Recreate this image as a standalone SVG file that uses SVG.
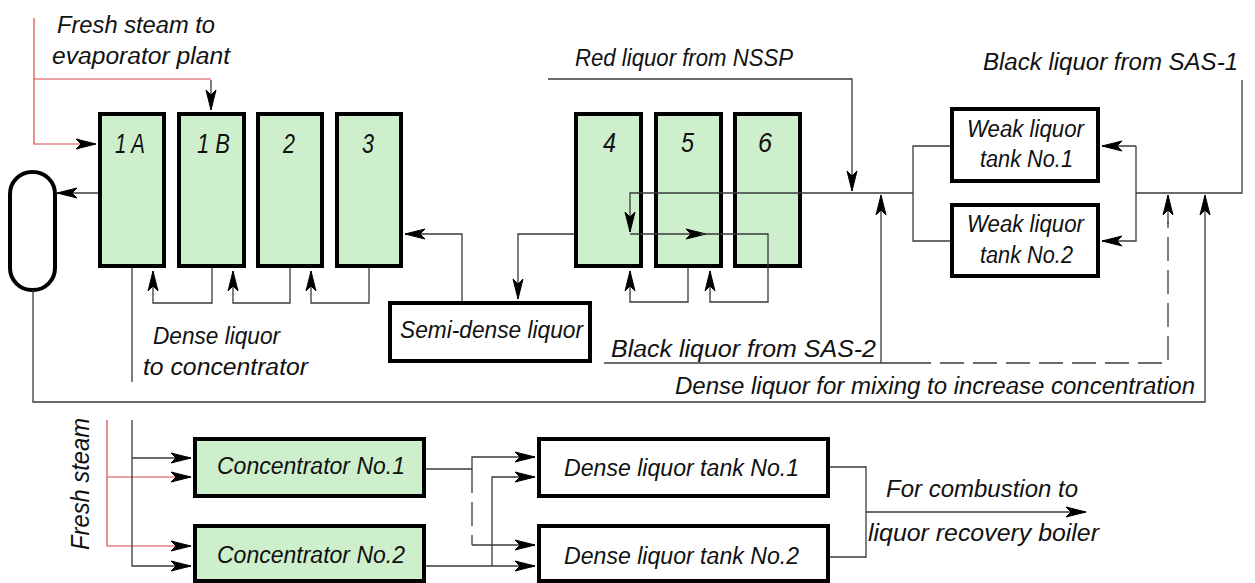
<svg xmlns="http://www.w3.org/2000/svg" width="1255" height="583" viewBox="0 0 1255 583">
<style>
.box{fill:#cdefcc;stroke:#000;stroke-width:4}
.wbox{fill:#fff;stroke:#000;stroke-width:4}
.ln{fill:none;stroke:#3a3a3a;stroke-width:1.3}
.red{fill:none;stroke:#d8464a;stroke-width:1.2}
.dash{stroke-dasharray:24 9}
.t{font-family:"Liberation Sans",Arial,sans-serif;font-style:italic;font-size:23px;fill:#111}
.n{font-family:"Liberation Sans",Arial,sans-serif;font-style:italic;font-size:28px;fill:#111}
</style>
<defs>
<marker id="a" viewBox="-23 -7 24 14" refX="0" refY="0" markerWidth="24" markerHeight="14" orient="auto" markerUnits="userSpaceOnUse">
<path d="M0,0 L-20,-5 L-15,0 L-20,5 Z" fill="#000" stroke="#000" stroke-width="1" stroke-linejoin="round"/>
</marker>
</defs>
<rect width="1255" height="583" fill="#fff"/>

<g id="receiver"><rect class="wbox" x="10" y="172" width="45" height="118" rx="22" ry="22"/></g>
<g id="evap-1A"><rect class="box" x="100" y="114" width="64" height="152"/><text class="n" x="115" y="153" textLength="30" lengthAdjust="spacingAndGlyphs">1 A</text></g>
<g id="evap-1B"><rect class="box" x="179" y="114" width="65" height="152"/><text class="n" x="197" y="153" textLength="33" lengthAdjust="spacingAndGlyphs">1 B</text></g>
<g id="evap-2"><rect class="box" x="258" y="114" width="64" height="152"/><text class="n" x="283" y="153" textLength="12" lengthAdjust="spacingAndGlyphs">2</text></g>
<g id="evap-3"><rect class="box" x="337" y="114" width="64" height="152"/><text class="n" x="362" y="153" textLength="12" lengthAdjust="spacingAndGlyphs">3</text></g>
<g id="evap-4"><rect class="box" x="576" y="114" width="65" height="152"/><text class="n" x="603" y="152" textLength="13" lengthAdjust="spacingAndGlyphs">4</text></g>
<g id="evap-5"><rect class="box" x="656" y="114" width="65" height="152"/><text class="n" x="681" y="152" textLength="13" lengthAdjust="spacingAndGlyphs">5</text></g>
<g id="evap-6"><rect class="box" x="735" y="114" width="65" height="152"/><text class="n" x="758" y="152" textLength="14" lengthAdjust="spacingAndGlyphs">6</text></g>
<g id="semi-dense"><rect class="wbox" x="390" y="303" width="200" height="58"/><text class="t" x="400" y="338" textLength="183" lengthAdjust="spacingAndGlyphs">Semi-dense liquor</text></g>
<g id="weak-tank-1"><rect class="wbox" x="952" y="109" width="146" height="72"/><text class="t" x="967" y="137" textLength="117" lengthAdjust="spacingAndGlyphs">Weak liquor</text><text class="t" x="980" y="167" textLength="93" lengthAdjust="spacingAndGlyphs">tank No.1</text></g>
<g id="weak-tank-2"><rect class="wbox" x="952" y="205" width="146" height="71"/><text class="t" x="967" y="232" textLength="117" lengthAdjust="spacingAndGlyphs">Weak liquor</text><text class="t" x="980" y="263" textLength="93" lengthAdjust="spacingAndGlyphs">tank No.2</text></g>
<g id="concentrator-1"><rect class="box" x="195" y="439" width="229" height="57"/><text class="t" x="217" y="474" textLength="188" lengthAdjust="spacingAndGlyphs">Concentrator No.1</text></g>
<g id="concentrator-2"><rect class="box" x="195" y="526" width="229" height="55"/><text class="t" x="217" y="563" textLength="188" lengthAdjust="spacingAndGlyphs">Concentrator No.2</text></g>
<g id="dense-tank-1"><rect class="wbox" x="539" y="439" width="289" height="57"/><text class="t" x="564" y="476" textLength="235" lengthAdjust="spacingAndGlyphs">Dense liquor tank No.1</text></g>
<g id="dense-tank-2"><rect class="wbox" x="539" y="526" width="289" height="55"/><text class="t" x="564" y="564" textLength="235" lengthAdjust="spacingAndGlyphs">Dense liquor tank No.2</text></g>

<g id="connectors">
<path class="red" d="M34,18 V144 H96" marker-end="url(#a)"/>
<path class="red" d="M34,79 H211"/>
<path class="ln" d="M211,80 V110" marker-end="url(#a)"/>
<path class="ln" d="M98,193 H57" marker-end="url(#a)"/>
<path class="ln" d="M212,268 V303 H153 V271" marker-end="url(#a)"/>
<path class="ln" d="M290,268 V303 H233 V271" marker-end="url(#a)"/>
<path class="ln" d="M369,268 V303 H311 V271" marker-end="url(#a)"/>
<path class="ln" d="M132,268 V382"/>
<path class="ln" d="M462,301 V234 H405" marker-end="url(#a)"/>
<path class="ln" d="M574,234 H518 V299" marker-end="url(#a)"/>
<path class="ln" d="M688,268 V302 H630 V271" marker-end="url(#a)"/>
<path class="ln" d="M913,193 H630 V232" marker-end="url(#a)"/>
<path class="ln" d="M630,234 H706" marker-end="url(#a)"/>
<path class="ln" d="M700,234 H768 V302 H710 V271" marker-end="url(#a)"/>
<path class="ln" d="M548,79 H852 V191" marker-end="url(#a)"/>
<path class="ln" d="M881,363 V195" marker-end="url(#a)"/>
<path class="ln" d="M604,363 H907"/>
<path class="ln dash" d="M907,363 H1168 V222"/>
<path class="ln" d="M1168,224 V195" marker-end="url(#a)"/>
<path class="ln" d="M950,146 H913 V241 H950"/>
<path class="ln" d="M1242,80 V193 H1136"/>
<path class="ln" d="M1136,146 H1102" marker-end="url(#a)"/>
<path class="ln" d="M1136,146 V241 H1102" marker-end="url(#a)"/>
<path class="ln" d="M33,290 V402 H1205 V195" marker-end="url(#a)"/>
<path class="red" d="M107,420 V546 H191" marker-end="url(#a)"/>
<path class="red" d="M107,477 H191" marker-end="url(#a)"/>
<path class="ln" d="M132,420 V566 H191" marker-end="url(#a)"/>
<path class="ln" d="M132,458 H191" marker-end="url(#a)"/>
<path class="ln" d="M426,469 H472 V457 H535" marker-end="url(#a)"/>
<path class="ln dash" d="M472,469 V545"/>
<path class="ln" d="M472,545 H535" marker-end="url(#a)"/>
<path class="ln" d="M426,566 H535" marker-end="url(#a)"/>
<path class="ln" d="M492,566 V477 H535" marker-end="url(#a)"/>
<path class="ln" d="M830,467 H866 V557 H830"/>
<path class="ln" d="M866,512 H1086" marker-end="url(#a)"/>
</g>

<g id="labels">
<text class="t" x="57" y="33" textLength="158" lengthAdjust="spacingAndGlyphs">Fresh steam to</text>
<text class="t" x="52" y="64" textLength="178" lengthAdjust="spacingAndGlyphs">evaporator plant</text>
<text class="t" x="575" y="66" textLength="218" lengthAdjust="spacingAndGlyphs">Red liquor from NSSP</text>
<text class="t" x="983" y="70" textLength="255" lengthAdjust="spacingAndGlyphs">Black liquor from SAS-1</text>
<text class="t" x="153" y="344" textLength="127" lengthAdjust="spacingAndGlyphs">Dense liquor</text>
<text class="t" x="143" y="375" textLength="165" lengthAdjust="spacingAndGlyphs">to concentrator</text>
<text class="t" x="611" y="357" textLength="265" lengthAdjust="spacingAndGlyphs">Black liquor from SAS-2</text>
<text class="t" x="675" y="394" textLength="520" lengthAdjust="spacingAndGlyphs">Dense liquor for mixing to increase concentration</text>
<text class="t" x="886" y="497" textLength="192" lengthAdjust="spacingAndGlyphs">For combustion to</text>
<text class="t" x="868" y="541" textLength="231" lengthAdjust="spacingAndGlyphs">liquor recovery boiler</text>
<text class="t" transform="translate(89,550) rotate(-90)" textLength="132" lengthAdjust="spacingAndGlyphs" style="font-size:25px">Fresh steam</text>
</g>
</svg>
